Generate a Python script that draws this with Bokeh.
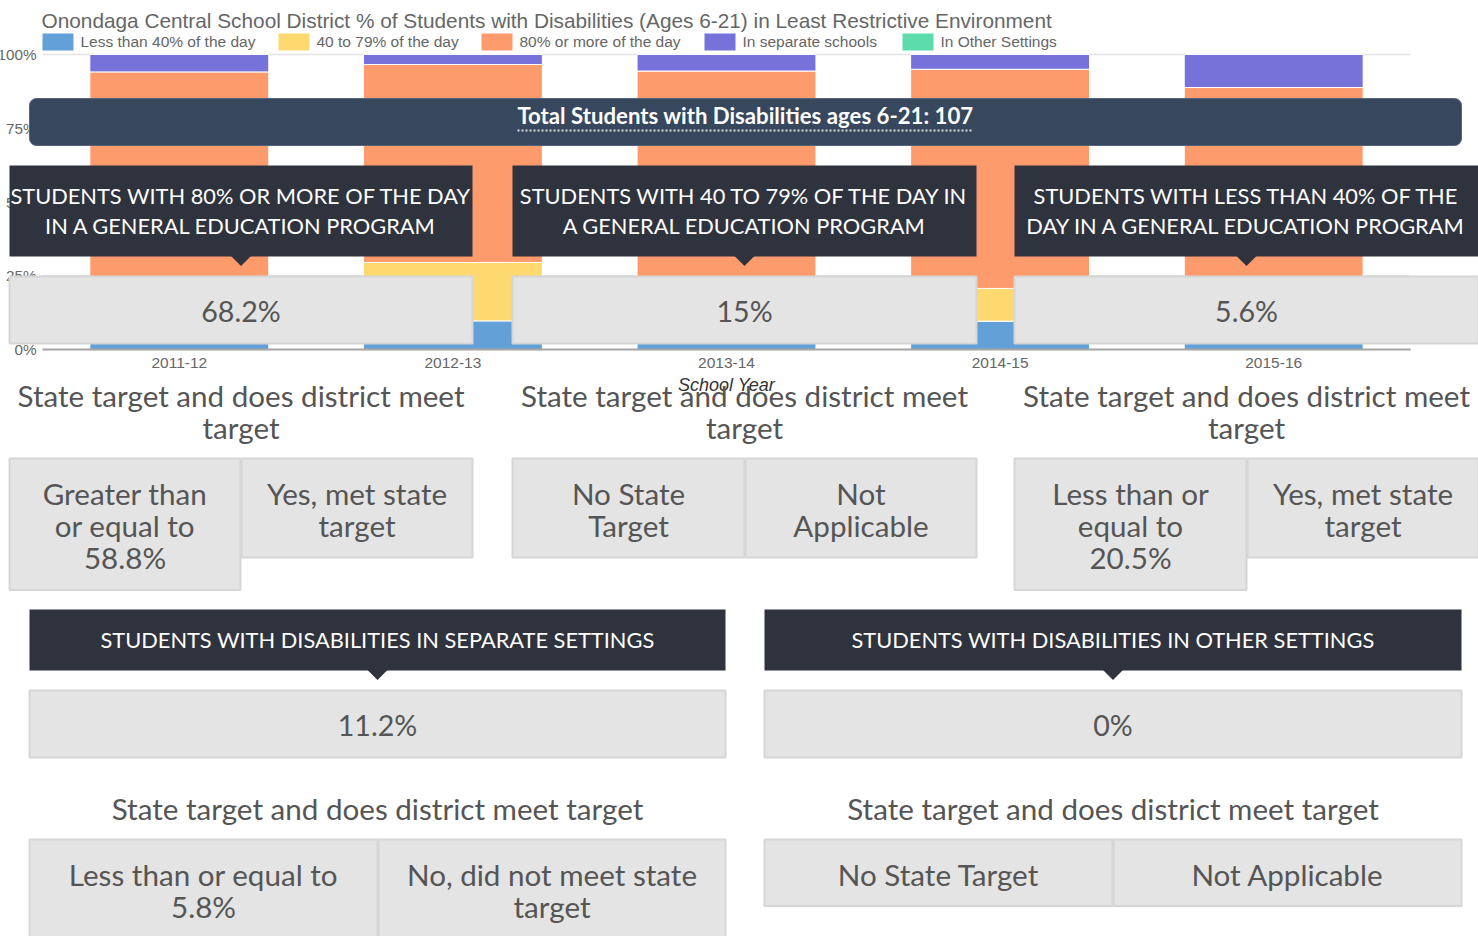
from bokeh.plotting import figure
from bokeh.models import (Range1d, FixedTicker, PrintfTickFormatter,
                          BoxAnnotation, Label, PolyAnnotation, Arrow)
from bokeh.embed import file_html
from bokeh.resources import INLINE

# ---------------- data ----------------
years = ["2011-12", "2012-13", "2013-14", "2014-15", "2015-16"]
less_than_40 = [8.4, 9.7, 7.5, 9.6, 5.6]
from_40_to_79 = [16.3, 19.8, 13.5, 11.1, 15.0]
over_80 = [69.4, 67.1, 73.4, 74.3, 68.2]
separate_schools = [5.9, 3.4, 5.6, 5.0, 11.2]
other_settings = [0.0, 0.0, 0.0, 0.0, 0.0]
series_names = ["Less than 40% of the day", "40 to 79% of the day",
                "80% or more of the day", "In separate schools", "In Other Settings"]
y_ticks = [0, 25, 50, 75, 100]

title_text = ("Onondaga Central School District % of Students with Disabilities "
              "(Ages 6-21) in Least Restrictive Environment")
total_text = "Total Students with Disabilities ages 6-21: 107"
question_two_lines = ["State target and does district meet", "target"]
question_one_line = "State target and does district meet target"

gen_ed_headings = [["STUDENTS WITH 80% OR MORE OF THE DAY", "IN A GENERAL EDUCATION PROGRAM"],
                   ["STUDENTS WITH 40 TO 79% OF THE DAY IN", "A GENERAL EDUCATION PROGRAM"],
                   ["STUDENTS WITH LESS THAN 40% OF THE", "DAY IN A GENERAL EDUCATION PROGRAM"]]
gen_ed_values = ["68.2%", "15%", "5.6%"]
gen_ed_targets = [["Greater than", "or equal to", "58.8%"],
                  ["No State", "Target"],
                  ["Less than or", "equal to", "20.5%"]]
gen_ed_met = [["Yes, met state", "target"], ["Not", "Applicable"], ["Yes, met state", "target"]]

setting_headings = ["STUDENTS WITH DISABILITIES IN SEPARATE SETTINGS",
                    "STUDENTS WITH DISABILITIES IN OTHER SETTINGS"]
setting_values = ["11.2%", "0%"]
setting_targets = [["Less than or equal to", "5.8%"], ["No State Target"]]
setting_met = [["No, did not meet state", "target"], ["Not Applicable"]]

# ---------------- styles / layout ----------------
COLORS = ["#63a0d8", "#fdd96f", "#fe9b6c", "#7672da", "#5cdbab"]
W, H = 1478, 936
FL, FR, FT, FB = 42, 1410, 54, 349       # chart area edges in page pixels
BANNER = "#37475d"
DARK = "#2f333e"
GRAY = "#e4e4e4"
BORDER = "#d6d6d6"
TXT = "#555555"
AXT = "#666666"
BIG = 29.6        # body text size
VAL = 28.6        # value text size
HEAD = 21.8       # heading text size

n = len(years)
step = (FR - FL) / n                      # pixels per category
ppu = (FB - FT) / 100.0                   # pixels per percent

p = figure(x_range=Range1d(-FL / step, n + (W - FR) / step),
           y_range=Range1d(-(H - FB) / ppu, 100 + FT / ppu),
           width=W, height=H, output_backend="svg", toolbar_location=None,
           min_border=0)
p.outline_line_color = None
p.background_fill_color = "white"
p.border_fill_color = "white"

# horizontal grid lines spanning the category area
p.segment(x0=[0] * len(y_ticks), x1=[n] * len(y_ticks), y0=y_ticks, y1=y_ticks,
          line_color="#e3e3e3", line_width=1.5)

xpos = [i + 0.5 for i in range(n)]
src = dict(x=xpos, a=less_than_40, b=from_40_to_79, c=over_80,
           d=separate_schools, e=other_settings)
p.vbar_stack(["a", "b", "c", "d", "e"], x="x", width=0.654, source=src,
             color=COLORS, line_color="white", line_width=1)

p.xgrid.grid_line_color = None
p.ygrid.grid_line_color = None

p.yaxis.fixed_location = 0
p.yaxis.bounds = (0, 100)
p.yaxis.ticker = FixedTicker(ticks=y_ticks)
p.yaxis.formatter = PrintfTickFormatter(format="%d%%")
p.yaxis.axis_line_color = None
p.yaxis.major_tick_line_color = None
p.yaxis.minor_tick_line_color = None
p.yaxis.major_tick_out = 0
p.yaxis.major_label_standoff = 6
p.yaxis.major_label_text_font = "Liberation Sans"
p.yaxis.major_label_text_font_size = "15.3px"
p.yaxis.major_label_text_color = AXT

p.xaxis.fixed_location = 0
p.xaxis.bounds = (0, n)
p.xaxis.ticker = FixedTicker(ticks=xpos)
p.xaxis.major_label_overrides = {x: y for x, y in zip(xpos, years)}
p.xaxis.axis_line_color = "#a6a6a6"
p.xaxis.axis_line_width = 2
p.xaxis.major_tick_line_color = None
p.xaxis.minor_tick_line_color = None
p.xaxis.major_tick_out = 0
p.xaxis.major_label_standoff = 8
p.xaxis.major_label_text_font = "Liberation Sans"
p.xaxis.major_label_text_font_size = "15.5px"
p.xaxis.major_label_text_color = AXT
p.xaxis.axis_label = "School Year"
p.xaxis.axis_label_text_font = "Liberation Sans"
p.xaxis.axis_label_text_font_size = "18px"
p.xaxis.axis_label_text_font_style = "italic"
p.xaxis.axis_label_text_color = "#333333"
p.xaxis.axis_label_standoff = 4


def X(x):
    return x


def Y(y):
    return H - y


def box(x1, y1, x2, y2, fill, line=None, lw=0, radius=0):
    p.add_layout(BoxAnnotation(
        left=X(x1), right=X(x2), top=Y(y1), bottom=Y(y2),
        left_units="screen", right_units="screen", top_units="screen", bottom_units="screen",
        fill_color=fill, fill_alpha=1, line_color=line if line else fill,
        line_alpha=1 if line else 0, line_width=lw, border_radius=radius))


def text(x, y, s, size, color, font="Lato", style="normal", align="center"):
    p.add_layout(Label(x=X(x), y=Y(y), x_units="screen", y_units="screen", text=s,
                       text_font=font, text_font_size=f"{size}px", text_color=color,
                       text_align=align, text_baseline="middle", text_font_style=style))


def pointer(cx, base, tip, color):
    p.add_layout(PolyAnnotation(xs=[X(cx - 10), X(cx + 10), X(cx)],
                                ys=[Y(base), Y(base), Y(tip)],
                                xs_units="screen", ys_units="screen",
                                fill_color=color, fill_alpha=1, line_alpha=0))


def heading(x1, x2, top, lines):
    h = 31 + 30 * len(lines)
    box(x1, top, x2, top + h, DARK)
    pointer((x1 + x2) / 2, top + h - 0.5, top + h + 9.5, DARK)
    for i, s in enumerate(lines):
        text((x1 + x2) / 2, top + 30 + 30 * i, s, HEAD, "white")


def value_box(x1, x2, top, s):
    box(x1, top, x2, top + 67, GRAY, BORDER, 2)
    text((x1 + x2) / 2, top + 34.5, s, VAL, TXT)


def target_box(x1, x2, top, lines):
    h = 34 + 32.5 * len(lines)
    box(x1, top, x2, top + h, GRAY, BORDER, 2)
    for i, s in enumerate(lines):
        text((x1 + x2) / 2, top + 34.5 + 32 * i, s, BIG, TXT)


# title and legend
text(41, 20, title_text, 20.8, AXT, font="Liberation Sans", align="left")
legend_x = [42, 278, 481, 704, 902]
for lx, name, col in zip(legend_x, series_names, COLORS):
    box(lx, 33, lx + 31, 50, col)
    text(lx + 38, 40.5, name, 15.5, AXT, font="Liberation Sans", align="left")

# total banner
box(29, 98, 1461, 145, BANNER, "#56657a", 1, 7)
text(745, 114.5, total_text, 22.2, "white", style="bold")
p.add_layout(Arrow(end=None, x_start=X(517), y_start=Y(130), x_end=X(973), y_end=Y(130),
                   start_units="screen", end_units="screen", line_color="#dddddd",
                   line_width=2, line_dash="2 2"))

# general education columns
cols = [(9, 472), (512, 976), (1014, 1478)]
for (x1, x2), hd, val, tg, met in zip(cols, gen_ed_headings, gen_ed_values,
                                      gen_ed_targets, gen_ed_met):
    cx = (x1 + x2) / 2
    heading(x1, x2, 165, hd)
    value_box(x1, x2, 276, val)
    for i, s in enumerate(question_two_lines):
        text(cx, 395 + 32 * i, s, BIG, TXT)
    mid = (x1 + x2) // 2
    target_box(x1, mid, 458, tg)
    target_box(mid + 1, x2, 458, met)

# settings columns
cols2 = [(29, 725), (764, 1461)]
for (x1, x2), hd, val, tg, met in zip(cols2, setting_headings, setting_values,
                                      setting_targets, setting_met):
    cx = (x1 + x2) / 2
    heading(x1, x2, 609, [hd])
    value_box(x1, x2, 690, val)
    text(cx, 808, question_one_line, BIG, TXT)
    mid = (x1 + x2) // 2
    target_box(x1, mid, 839, tg)
    target_box(mid + 1, x2, 839, met)

open("out.html", "w").write(file_html(p, INLINE))
